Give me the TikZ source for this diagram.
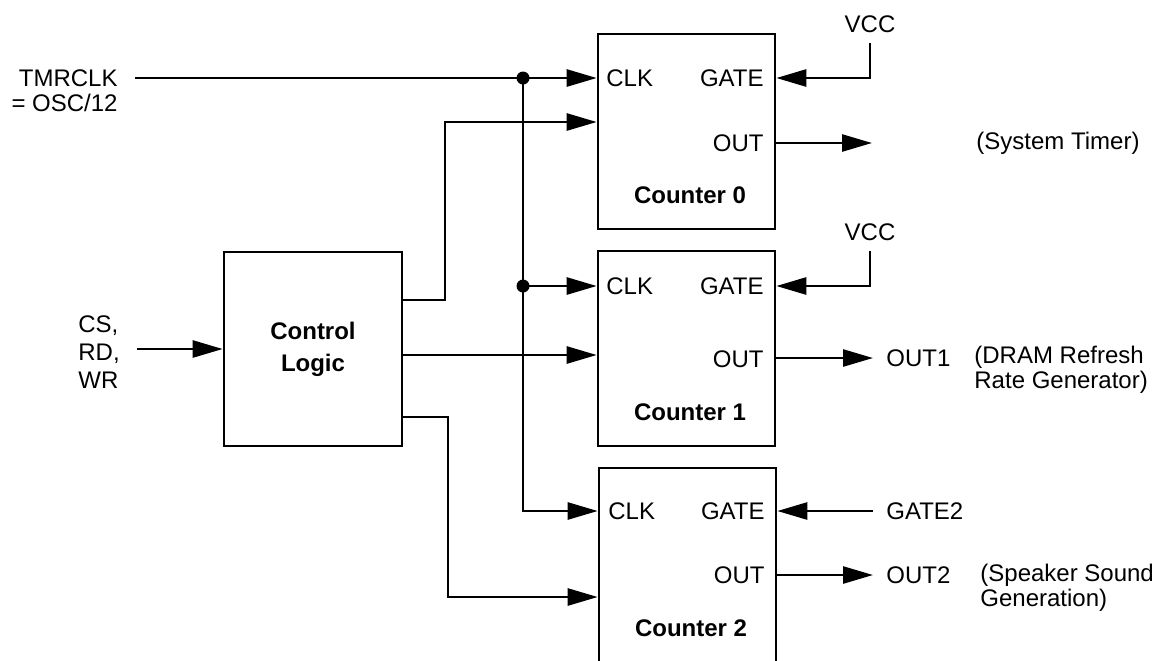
\documentclass[tikz,border=0pt]{standalone}
\usepackage{fontspec}
\setmainfont{Liberation Sans}
\usetikzlibrary{arrows.meta}
\begin{document}
\begin{tikzpicture}[x=0.5pt,y=-0.5pt,
  lw/.style={line width=1.3pt},
  box/.style={draw,lw,rectangle,inner sep=0pt},
  cbox/.style={box,minimum width=88.5pt,minimum height=97.5pt},
  arr/.style={lw,-{Triangle[length=15pt,width=8.5pt]}},
  wire/.style={lw},
  lbl/.style={font=\fontsize{12}{12.5}\selectfont,inner sep=0pt},
  blbl/.style={font=\fontsize{12}{16}\selectfont\bfseries,inner sep=0pt,align=center},
  dot/.style={circle,fill,inner sep=0pt,minimum size=6.5pt}]
\useasboundingbox (0,0) rectangle (1160,660);

% boxes
\node[cbox] (c0) at (686.5,131.5) {};
\node[cbox] (c1) at (686.5,348.5) {};
\node[cbox] (c2) at (687.5,565.5) {};
\node[box,blbl,minimum width=89pt,minimum height=97pt] (ctl) at (313,349) {Control\\Logic};

% box labels
\node[blbl] (c0n) at (690,195) {Counter 0};
\node[blbl] (c1n) at (690,412) {Counter 1};
\node[blbl] (c2n) at (691,628) {Counter 2};

\node[lbl,anchor=west] (c0clk) at (606,78) {CLK};
\node[lbl,anchor=east] (c0gate) at (764,78) {GATE};
\node[lbl,anchor=east] (c0out) at (764,143) {OUT};
\node[lbl,anchor=west] (c1clk) at (606,286) {CLK};
\node[lbl,anchor=east] (c1gate) at (764,286) {GATE};
\node[lbl,anchor=east] (c1out) at (764,359) {OUT};
\node[lbl,anchor=west] (c2clk) at (608,511) {CLK};
\node[lbl,anchor=east] (c2gate) at (765,511) {GATE};
\node[lbl,anchor=east] (c2out) at (765,575) {OUT};

% left inputs
\node[lbl,align=right,anchor=east] (tmr) at (118,91) {TMRCLK\\= OSC/12};
\coordinate (tmrs) at (135,78);
\node[lbl,align=left,anchor=west,font=\fontsize{12}{14}\selectfont] (cs) at (78,352) {CS,\\RD,\\WR};
\coordinate (css) at (137,349);

% clock distribution
\node[dot] (d0) at (523,78) {};
\node[dot] (d1) at (523,286) {};
\draw[arr] (tmrs) -- (c0.west |- tmrs);
\draw[arr] (d0.center) |- (c2.west |- c2clk);
\draw[arr] (d1.center) -- (c1.west |- d1);

% control logic
\draw[arr] (css) -- (ctl.west |- css);
\draw[arr] (ctl.east |- 0,300) -| (445,122) -- (c0.west |- 0,122);
\draw[arr] (ctl.east |- 0,355) -- (c1.west |- 0,355);
\draw[arr] (ctl.east |- 0,417) -| (448,597) -- (c2.west |- 0,597);

% gates
\node[lbl] (vcc0) at (870,24) {VCC};
\node[lbl] (vcc1) at (870,232) {VCC};
\draw[arr] ([yshift=-5pt]vcc0.south) |- (c0.east |- c0gate);
\draw[arr] ([yshift=-5pt]vcc1.south) |- (c1.east |- c1gate);
\node[lbl,anchor=west] (g2) at (886,511) {GATE2};
\draw[arr] ([xshift=-6.5pt]g2.west) -- (c2.east |- g2);

% outputs
\coordinate (o0) at (872,143);
\draw[arr] (c0.east |- o0) -- (o0);
\node[lbl,anchor=west] (st) at (976,143) {(System Timer)};
\node[lbl,anchor=west] (out1) at (886,358) {OUT1};
\draw[arr] (c1.east |- out1) -- ([xshift=-6.5pt]out1.west);
\node[lbl,anchor=west,align=left] (dram) at (974,370) {(DRAM Refresh\\Rate Generator)};
\node[lbl,anchor=west] (out2) at (886,575) {OUT2};
\draw[arr] (c2.east |- out2) -- ([xshift=-6.5pt]out2.west);
\node[lbl,anchor=west,align=left] (spk) at (980,588) {(Speaker Sound\\Generation)};
\end{tikzpicture}
\end{document}
